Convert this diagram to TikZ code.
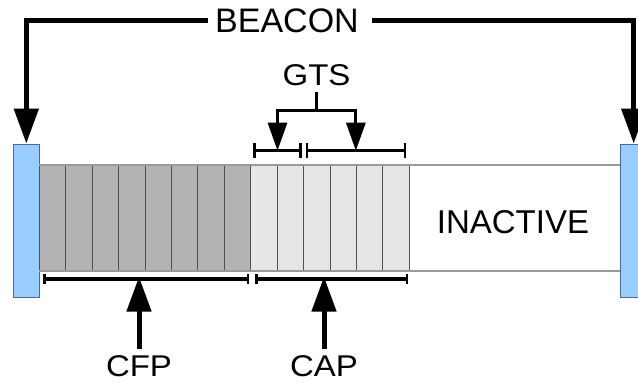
\documentclass[tikz,border=0pt]{standalone}
\usepackage{fontspec}
\setmainfont{Liberation Sans}
\usetikzlibrary{arrows.meta,calc}
\definecolor{beaconblue}{HTML}{99CCFF}
\definecolor{beaconedge}{HTML}{4A6A8F}
\definecolor{cfpgray}{HTML}{B3B3B3}
\definecolor{capgray}{HTML}{E6E6E6}
\definecolor{stripedge}{HTML}{9A9A9A}
\definecolor{celledge}{HTML}{505050}
\begin{document}
\begin{tikzpicture}[x=1pt,y=-1pt,
  beaconbox/.style={draw=beaconedge,line width=0.9pt,fill=beaconblue,
    minimum width=26pt,minimum height=153pt,inner sep=0pt},
  slot/.style={draw=celledge,line width=0.8pt,minimum width=26.4pt,
    minimum height=106pt,inner sep=0pt,outer sep=0pt},
  bigtext/.style={font=\fontsize{34}{40}\selectfont,inner sep=0pt,
    text height=24.3pt,text depth=0pt},
  midtext/.style={font=\fontsize{33}{40}\selectfont,inner sep=0pt,
    text height=23.6pt,text depth=0pt},
  smalltext/.style={font=\fontsize{30}{36}\selectfont,xscale=1.1,inner xsep=0pt,
    inner ysep=6.5pt,text height=21.5pt,text depth=0pt},
  fatarrow/.style={line width=5pt,-{Triangle[length=35pt,width=24pt]}},
  thinarrow/.style={line width=3pt,-{Triangle[length=28pt,width=19pt]}},
  thinline/.style={line width=3pt},
  smallbar/.style={line width=2.5pt,{Bar[width=15pt]}-{Bar[width=15pt]}},
  bigbar/.style={line width=4pt,{Bar[width=10pt,line width=2.5pt]}-{Bar[width=10pt,line width=2.5pt]}}
]
\useasboundingbox (0,0) rectangle (638,383);

% beacon frames at both ends of the superframe
\node[beaconbox] (lbeacon) at (26.3,220.5) {};
\node[beaconbox] (rbeacon) at (633.7,220.5) {};

% contention-free slots
\foreach \i in {1,...,8}
  \node[slot,fill=cfpgray] (cfp\i) at ({39.3+26.43*(\i-0.5)},218) {};
% contention-access slots
\foreach \i in {1,...,6}
  \node[slot,fill=capgray] (cap\i) at ({250.7+26.4*(\i-0.5)},218) {};

% upper and lower edges of the superframe strip
\draw[stripedge,line width=1.5pt] (cfp1.north west) -- (rbeacon.west |- cfp1.north);
\draw[stripedge,line width=1.5pt] (cfp1.south west) -- (rbeacon.west |- cfp1.south);

\node[midtext] (inactive) at (513,222) {INACTIVE};

% beacon label and its arrows
\node[bigtext] (beacon) at (287,20.8) {BEACON};
\draw[fatarrow] ([xshift=-7pt]beacon.west) -| (lbeacon.north);
\draw[fatarrow] ([xshift=13pt]beacon.east) -| (rbeacon.north);

% guaranteed time slot spans
\coordinate (gtsa1) at (253.3,150.7);
\coordinate (gtsa2) at (301.7,150.7);
\coordinate (gtsb1) at (305.7,150.7);
\coordinate (gtsb2) at (406,150.7);
\draw[smallbar] (gtsa1) -- (gtsa2);
\draw[smallbar] (gtsb1) -- (gtsb2);

\node[smalltext] (gts) at (316.5,75) {GTS};
\coordinate (gtsfork) at (316.5,110);
\draw[thinline] (gts.south) -- (gtsfork);
\draw[thinarrow] (gtsfork) -| ($(gtsa1)!0.5!(gtsa2)$);
\draw[thinarrow] (gtsfork) -| ($(gtsb1)!0.5!(gtsb2)$);

% period spans below the strip
\coordinate (cfpa) at (43.3,278.7);
\coordinate (cfpb) at (249.3,278.7);
\coordinate (capa) at (255,278.7);
\coordinate (capb) at (408,278.7);
\draw[bigbar] (cfpa) -- (cfpb);
\draw[bigbar] (capa) -- (capb);

\node[smalltext] (cfp) at (139,366) {CFP};
\node[smalltext] (cap) at (324,366) {CAP};
\draw[fatarrow,shorten >=-2pt] (cfp.north) -- (cfp.north |- cfpa);
\draw[fatarrow,shorten >=-2pt] (cap.north) -- (cap.north |- capa);
\end{tikzpicture}
\end{document}
